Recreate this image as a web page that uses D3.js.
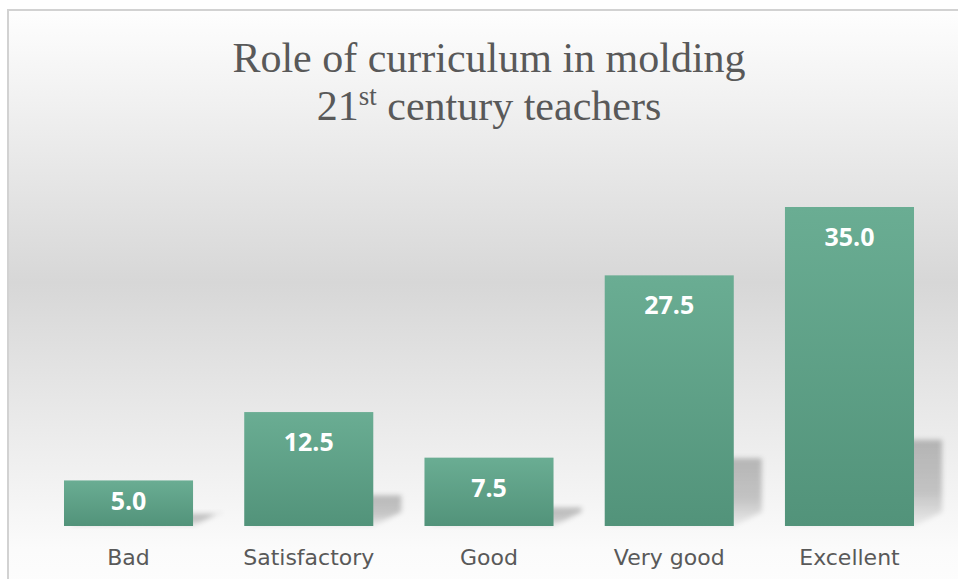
<!DOCTYPE html>
<html lang="en">
  <head>
    <meta charset="UTF-8" />
    <script src="https://d3js.org/d3.v7.min.js"></script>
    <title>Role of curriculum</title>
    <style>
      body { margin: 0; background: #fff; }
    </style>
  </head>
  <body>
    <svg width="958" height="579"></svg>
    <script>
      var categories = ["Bad", "Satisfactory", "Good", "Very good", "Excellent"];
      var values = [5.0, 12.5, 7.5, 27.5, 35.0];

      var svg = d3.select("svg");
      var defs = svg.append("defs");

      var bg = defs.append("linearGradient")
        .attr("id", "bg").attr("x1", 0).attr("y1", 0).attr("x2", 0).attr("y2", 1);
      bg.append("stop").attr("offset", "0").attr("stop-color", "#fefefe");
      bg.append("stop").attr("offset", "0.47").attr("stop-color", "#d7d7d7");
      bg.append("stop").attr("offset", "0.93").attr("stop-color", "#fbfbfb");
      bg.append("stop").attr("offset", "1").attr("stop-color", "#fdfdfd");

      var barGrad = defs.append("linearGradient")
        .attr("id", "bar").attr("x1", 0).attr("y1", 0).attr("x2", 0).attr("y2", 1);
      barGrad.append("stop").attr("offset", "0").attr("stop-color", "#6aad93");
      barGrad.append("stop").attr("offset", "1").attr("stop-color", "#52937a");

      var shGrad = defs.append("linearGradient")
        .attr("id", "sh").attr("x1", 0).attr("y1", 0).attr("x2", 0).attr("y2", 1);
      shGrad.append("stop").attr("offset", "0").attr("stop-color", "#000").attr("stop-opacity", 0.24);
      shGrad.append("stop").attr("offset", "0.6").attr("stop-color", "#000").attr("stop-opacity", 0.2);
      shGrad.append("stop").attr("offset", "1").attr("stop-color", "#000").attr("stop-opacity", 0.05);

      defs.append("filter").attr("id", "blur")
        .attr("x", "-20%").attr("y", "-20%").attr("width", "140%").attr("height", "140%")
        .append("feGaussianBlur").attr("stdDeviation", 2.5);

      // chart area with border
      svg.append("rect")
        .attr("x", 8).attr("y", 10)
        .attr("width", 962).attr("height", 580)
        .attr("fill", "url(#bg)")
        .attr("stroke", "#d2d2d2")
        .attr("stroke-width", 2);

      // title
      var title = svg.append("text")
        .attr("text-anchor", "middle")
        .attr("font-family", "'Liberation Serif', 'Times New Roman', serif")
        .attr("font-size", 42)
        .attr("fill", "#595959");
      title.append("tspan").attr("x", 489).attr("y", 72).text("Role of curriculum in molding");
      var line2 = title.append("tspan").attr("x", 489).attr("y", 120);
      line2.append("tspan").text("21");
      line2.append("tspan").attr("font-size", 27).attr("dy", -15).text("st");
      line2.append("tspan").attr("dy", 15).text(" century teachers");

      var base = 526;
      var x = d3.scaleBand()
        .domain(categories)
        .range([38.4, 939.6])
        .paddingInner(0.284)
        .paddingOuter(0.142);

      var y = d3.scaleLinear().domain([0, 35]).range([base, 207]);

      var g = svg.append("g");

      // perspective shadows
      g.selectAll("path.shadow")
        .data(values)
        .enter()
        .append("path")
        .attr("class", "shadow")
        .attr("d", function (d, i) {
          var x0 = x(categories[i]), x1 = x0 + x.bandwidth();
          var h = (base - y(d)) * 0.27;
          return "M" + (x0 + 4) + "," + base +
            "L" + x1 + "," + base +
            "L" + (x1 + 28) + "," + (base - 14) +
            "L" + (x1 + 28) + "," + (base - h) +
            "L" + (x0 + 28) + "," + (base - h) + "Z";
        })
        .attr("fill", "url(#sh)")
        .attr("filter", "url(#blur)");

      g.selectAll("rect.bar")
        .data(values)
        .enter()
        .append("rect")
        .attr("class", "bar")
        .attr("x", function (d, i) { return x(categories[i]); })
        .attr("y", function (d) { return y(d); })
        .attr("width", x.bandwidth())
        .attr("height", function (d) { return base - y(d); })
        .attr("fill", "url(#bar)");

      g.selectAll("text.val")
        .data(values)
        .enter()
        .append("text")
        .attr("class", "val")
        .attr("x", function (d, i) { return x(categories[i]) + x.bandwidth() / 2; })
        .attr("y", function (d) {
          return Math.min(y(d) + 39, (y(d) + base) / 2 + 7);
        })
        .attr("text-anchor", "middle")
        .attr("font-family", "'Open Sans', sans-serif")
        .attr("font-weight", "bold")
        .attr("font-size", 25)
        .attr("fill", "#fff")
        .text(function (d) { return d.toFixed(1); });

      // category axis
      var axis = g.append("g")
        .attr("transform", "translate(0," + base + ")")
        .call(d3.axisBottom(x).tickSize(0).tickPadding(0));
      axis.select(".domain").remove();
      axis.selectAll("text")
        .attr("y", 39)
        .attr("dy", 0)
        .attr("font-family", "'DejaVu Sans', sans-serif")
        .attr("font-size", 22)
        .attr("fill", "#595959");
    </script>
  </body>
</html>
